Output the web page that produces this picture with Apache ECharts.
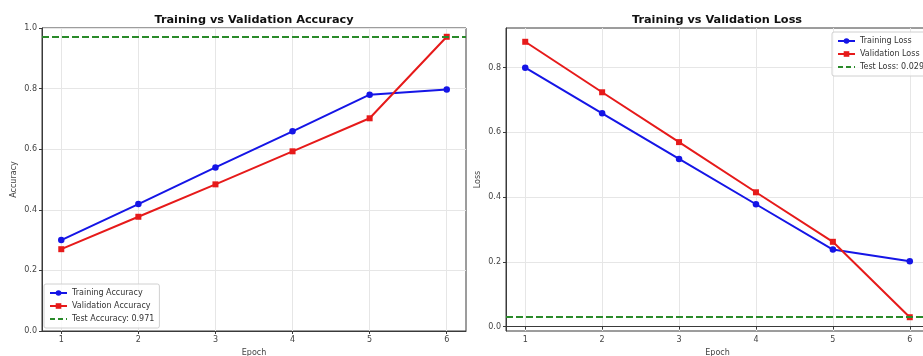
<!DOCTYPE html>
<html>
<head>
<meta charset="utf-8">
<script src="https://cdn.jsdelivr.net/npm/echarts@6/dist/echarts.min.js"></script>
<style>
html,body{margin:0;padding:0;background:#fff;}
#c{width:923px;height:356px;}
</style>
</head>
<body>
<div id="c"></div>
<script>
// ---- data ----
const epochs = [1, 2, 3, 4, 5, 6];
const trainAcc = [0.300, 0.419, 0.540, 0.659, 0.780, 0.797];
const valAcc = [0.270, 0.377, 0.484, 0.593, 0.702, 0.971];
const trainLoss = [0.800, 0.659, 0.518, 0.378, 0.238, 0.202];
const valLoss = [0.880, 0.724, 0.570, 0.415, 0.262, 0.029];
const testAcc = 0.971;
const testLoss = 0.029;
const accTicks = [0, 0.2, 0.4, 0.6, 0.8, 1.0];
const lossTicks = [0, 0.2, 0.4, 0.6, 0.8];

const FONT = 'DejaVu Sans';
const pts = arr => epochs.map((e, i) => [e, arr[i]]);
const BLUE = '#1515e6', RED = '#e61a1a', GREEN = '#2a8a2a';
const axisCol = '#3a3a3a', labelCol = '#444', gridCol = '#e6e6e6';

function xAxis(gi) {
  return {
    type: 'value', gridIndex: gi, min: 0.75, max: 6.25,
    name: 'Epoch', nameLocation: 'middle', nameGap: 15,
    nameTextStyle: {fontFamily: FONT, fontSize: 8, color: labelCol},
    axisLine: {lineStyle: {color: axisCol, width: 1}},
    axisTick: {show: true, length: 3, lineStyle: {color: axisCol}, customValues: epochs},
    axisLabel: {fontFamily: FONT, fontSize: 8, color: labelCol, margin: 5, customValues: epochs},
    splitLine: {show: true, lineStyle: {color: gridCol, width: 1}, customValues: epochs}
  };
}
function yAxis(gi, name, min, max, ticks, gap) {
  return {
    type: 'value', gridIndex: gi, min: min, max: max,
    name: name, nameLocation: 'middle', nameGap: gap,
    nameTextStyle: {fontFamily: FONT, fontSize: 8, color: labelCol},
    axisLine: {show: true, lineStyle: {color: axisCol, width: 1}},
    axisTick: {show: true, length: 3, lineStyle: {color: axisCol}, customValues: ticks},
    axisLabel: {fontFamily: FONT, fontSize: 8, color: labelCol, margin: 5, customValues: ticks,
      formatter: v => Number(v).toFixed(1)},
    splitLine: {show: true, lineStyle: {color: gridCol, width: 1}, customValues: ticks}
  };
}
function lineSeries(name, data, color, symbol, xi) {
  return {
    type: 'line', name: name, xAxisIndex: xi, yAxisIndex: xi, data: pts(data),
    symbol: symbol, symbolSize: symbol === 'rect' ? 6 : 6.5, showSymbol: true,
    lineStyle: {color: color, width: 2}, itemStyle: {color: color},
    z: 3
  };
}
function testSeries(name, value, xi) {
  return {
    type: 'line', name: name, xAxisIndex: xi, yAxisIndex: xi, data: [],
    symbol: 'none', color: GREEN,
    lineStyle: {color: GREEN, width: 2, type: [7, 3]},
    itemStyle: {color: GREEN},
    markLine: {
      silent: true, symbol: ['none', 'none'], label: {show: false},
      lineStyle: {color: GREEN, width: 2, type: [7, 3]},
      data: [{yAxis: value}]
    },
    z: 4
  };
}
const legendCommon = {
  orient: 'vertical', itemWidth: 17, itemHeight: 7, itemGap: 5,
  padding: [5, 5, 5, 5],
  backgroundColor: 'rgba(255,255,255,0.8)', borderColor: '#d0d0d0', borderWidth: 1, borderRadius: 2,
  textStyle: {fontFamily: FONT, fontSize: 8, color: '#333'}
};
const testLegendItem = name => ({
  name: name,
  itemStyle: {opacity: 0},
  lineStyle: {color: GREEN, width: 2, type: [5, 3], opacity: 1}
});

const chart = echarts.init(document.getElementById('c'), null, {renderer: 'canvas'});
chart.setOption({
  animation: false,
  backgroundColor: '#fff',
  title: [
    {text: 'Training vs Validation Accuracy', left: 249, top: 10, textAlign: 'center',
      textStyle: {fontFamily: FONT, fontSize: 11.3, fontWeight: 'bold', color: '#111'}},
    {text: 'Training vs Validation Loss', left: 712, top: 10, textAlign: 'center',
      textStyle: {fontFamily: FONT, fontSize: 11.3, fontWeight: 'bold', color: '#111'}}
  ],
  grid: [
    {left: 42, top: 28, width: 424, height: 303, outerBoundsMode: 'none', containLabel: false,
      show: true, borderColor: axisCol, borderWidth: 1, backgroundColor: 'transparent'},
    {left: 506, top: 28, width: 423, height: 303, outerBoundsMode: 'none', containLabel: false,
      show: true, borderColor: axisCol, borderWidth: 1, backgroundColor: 'transparent'}
  ],
  xAxis: [xAxis(0), xAxis(1)],
  yAxis: [
    yAxis(0, 'Accuracy', 0, 1, accTicks, 24),
    yAxis(1, 'Loss', -0.0136, 0.9226, lossTicks, 24)
  ],
  legend: [
    Object.assign({}, legendCommon, {left: 44, top: 284,
      data: ['Training Accuracy', 'Validation Accuracy', testLegendItem('Test Accuracy: ' + testAcc.toFixed(3))]}),
    Object.assign({}, legendCommon, {left: 832, top: 32,
      data: ['Training Loss', 'Validation Loss', testLegendItem('Test Loss: ' + testLoss.toFixed(3))]})
  ],
  series: [
    lineSeries('Training Accuracy', trainAcc, BLUE, 'circle', 0),
    lineSeries('Validation Accuracy', valAcc, RED, 'rect', 0),
    testSeries('Test Accuracy: ' + testAcc.toFixed(3), testAcc, 0),
    lineSeries('Training Loss', trainLoss, BLUE, 'circle', 1),
    lineSeries('Validation Loss', valLoss, RED, 'rect', 1),
    testSeries('Test Loss: ' + testLoss.toFixed(3), testLoss, 1)
  ]
});
</script>
</body>
</html>
